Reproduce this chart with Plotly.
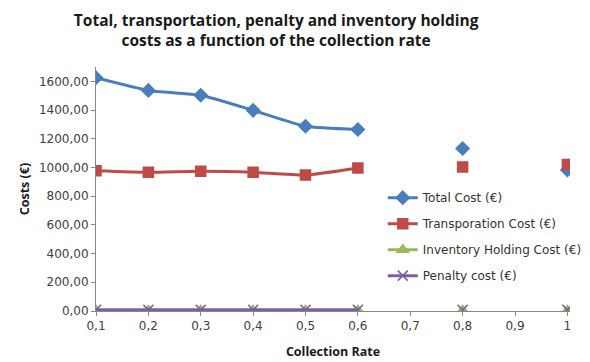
import plotly.graph_objects as go

# Collection rates (category axis) and cost series; None = no observation
rates = ["0,1", "0,2", "0,3", "0,4", "0,5", "0,6", "0,7", "0,8", "0,9", "1"]
total_cost = [1625, 1537, 1503, 1398, 1287, 1265, None, 1132, None, 982]
transport_cost = [977, 966, 973, 966, 947, 996, None, 1004, None, 1020]
inventory_cost = [4, 4, 4, 4, 4, 4, None, 4, None, 4]
penalty_cost = [8, 8, 8, 8, 8, 8, None, 8, None, 8]

series = [
    ("Total Cost (€)", total_cost, "#4A7EBB", "diamond", 10),
    ("Transporation Cost (€)", transport_cost, "#BE4B48", "square", 10),
    ("Inventory Holding Cost (€)", inventory_cost, "#98B954", "triangle-up", 10),
    ("Penalty cost (€)", penalty_cost, "#7D60A0", "x-thin", 10),
]

fig = go.Figure()
for i, (name, vals, color, symbol, size) in enumerate(series):
    fig.add_trace(go.Scatter(
        x=rates, y=vals, name=name, mode="lines+markers",
        legendgroup=f"g{i}",
        connectgaps=False,
        line=dict(color=color, width=3, shape="spline", smoothing=0.5),
        marker=dict(symbol=symbol, size=size, color=color,
                    line=dict(color=color, width=1.5)),
    ))

fig.update_layout(
    width=590, height=362,
    margin=dict(l=96, r=20, t=67, b=51, autoexpand=False),
    paper_bgcolor="white", plot_bgcolor="white",
    separators=",.",
    font=dict(family="DejaVu Sans, sans-serif", size=12, color="#404040"),
    title=dict(
        text="Total, transportation, penalty and inventory holding<br>costs as a function of the collection rate",
        x=0.468, xanchor="center", y=0.929, yanchor="middle",
        font=dict(size=15.5, color="#1a1a1a", family="Open Sans, sans-serif", weight="bold"),
    ),
    showlegend=True,
    legend=dict(
        x=0.605, y=0.524, xanchor="left", yanchor="top",
        bgcolor="rgba(255,255,255,0)", font=dict(size=12, color="#333333"),
        tracegroupgap=7, itemwidth=30,
    ),
)

fig.update_xaxes(
    type="category", categoryorder="array", categoryarray=rates,
    range=[0, 9.05], showgrid=False, zeroline=False, automargin=False,
    showline=True, linecolor="#888888", linewidth=1,
    ticks="outside", ticklen=4, tickcolor="#888888",
    tickfont=dict(size=12, color="#404040"),
    title=dict(text="Collection Rate", standoff=14,
               font=dict(size=12.5, color="#1a1a1a", family="Open Sans, sans-serif", weight="bold")),
)
fig.update_yaxes(
    range=[0, 1700], dtick=200, tickformat=".2f",
    showgrid=False, zeroline=False, automargin=False,
    showline=True, linecolor="#888888", linewidth=1,
    ticks="outside", ticklen=4, tickcolor="#888888",
    tickfont=dict(size=12, color="#404040"),
    title=dict(text="Costs (€)", standoff=6,
               font=dict(size=12.5, color="#1a1a1a", family="Open Sans, sans-serif", weight="bold")),
)

fig.write_html("out.html")
